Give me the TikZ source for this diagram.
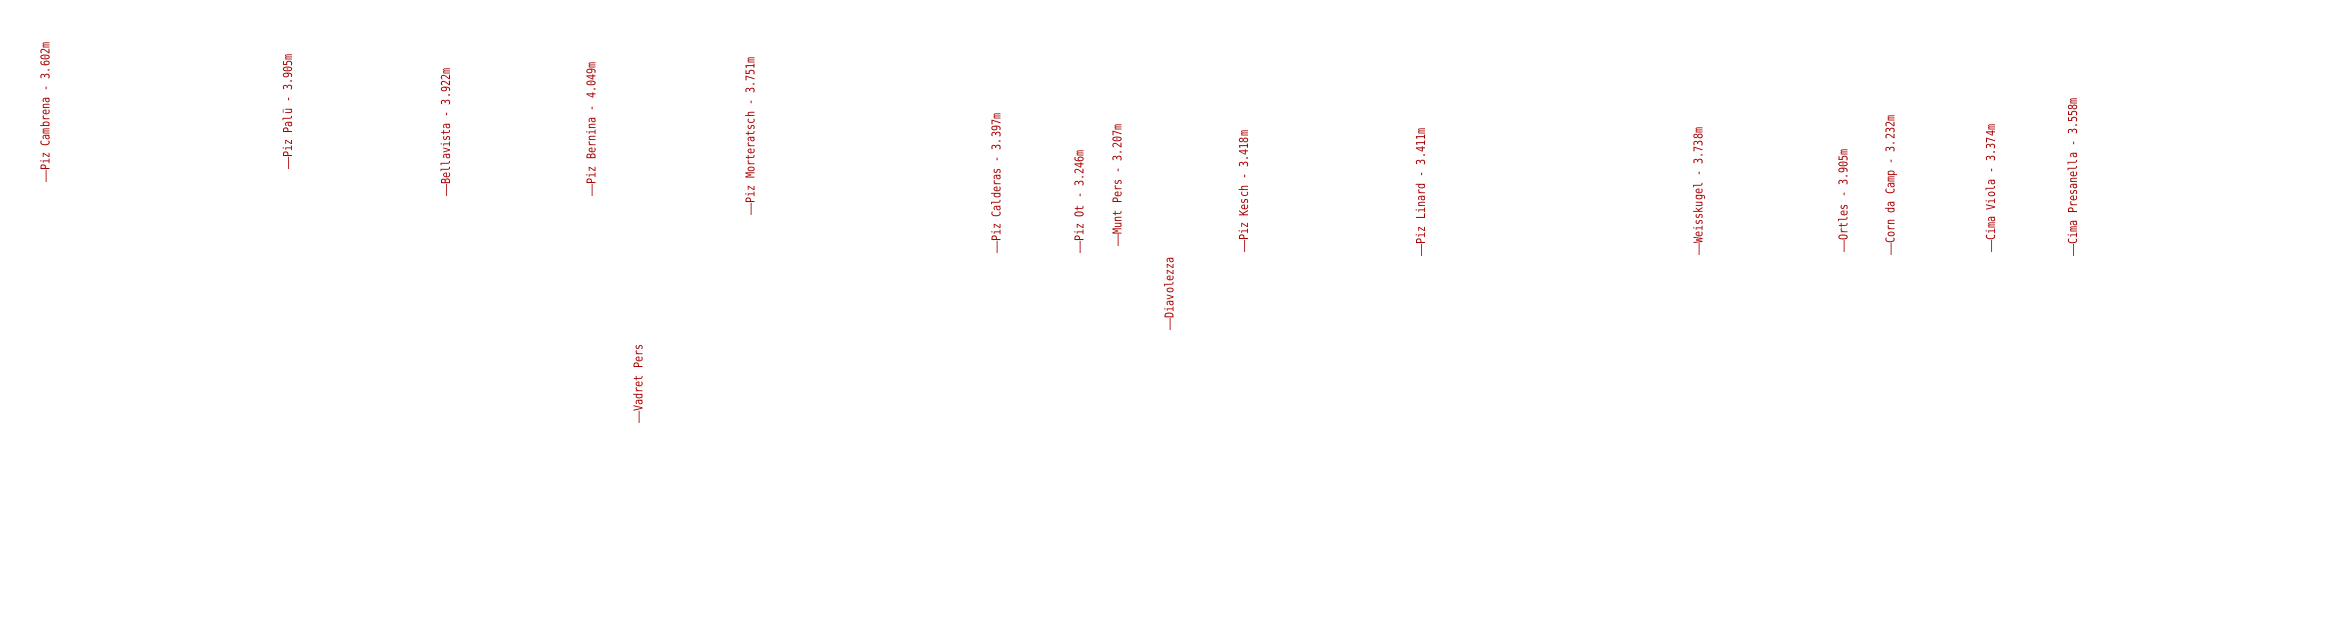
\documentclass[tikz,border=0pt]{standalone}
\usepackage{fontspec}
\usepackage{graphicx}
\newfontfamily\lblfont{DejaVu Sans Mono}[FakeStretch=0.82]
\definecolor{peakred}{RGB}{170,0,0}
\newcommand{\ldash}{\scalebox{2}[1]{—}}
\tikzset{
  peaklabel/.style={rotate=90, anchor=base west, inner sep=0pt, text=peakred,
    font=\lblfont\fontsize{12.35}{12.35}\selectfont}
}
\begin{document}
\begin{tikzpicture}[x=1pt,y=-1pt]
\path[use as bounding box] (0,0) rectangle (2330,620);
\node[peaklabel] (cambrena)    at (49.5,183)   {\ldash Piz Cambrena - 3.602m};
\node[peaklabel] (palu)        at (292,170)    {\ldash Piz Palü - 3.905m};
\node[peaklabel] (bellavista)  at (450.2,196.7){\ldash Bellavista - 3.922m};
\node[peaklabel] (bernina)     at (595.5,196.7){\ldash Piz Bernina - 4.049m};
\node[peaklabel] (morteratsch) at (754.5,215.7){\ldash Piz Morteratsch - 3.751m};
\node[peaklabel] (vadret)      at (642.5,424)  {\ldash Vadret Pers};
\node[peaklabel] (calderas)    at (1000.5,254) {\ldash Piz Calderas - 3.397m};
\node[peaklabel] (ot)          at (1083.5,254) {\ldash Piz Ot - 3.246m};
\node[peaklabel] (muntpers)    at (1121.5,246.7){\ldash Munt Pers - 3.207m};
\node[peaklabel] (diavolezza)  at (1173.5,330.7){\ldash Diavolezza};
\node[peaklabel] (kesch)       at (1248,253)   {\ldash Piz Kesch - 3.418m};
\node[peaklabel] (linard)      at (1425.2,256.7){\ldash Piz Linard - 3.411m};
\node[peaklabel] (weisskugel)  at (1702.5,256) {\ldash Weisskugel - 3.738m};
\node[peaklabel] (ortles)      at (1847.5,253) {\ldash Ortles - 3.905m};
\node[peaklabel] (corndacamp)  at (1894.5,256) {\ldash Corn da Camp - 3.232m};
\node[peaklabel] (cimaviola)   at (1995.2,253) {\ldash Cima Viola - 3.374m};
\node[peaklabel] (presanella)  at (2077.2,256.7){\ldash Cima Presanella - 3.558m};
\end{tikzpicture}
\end{document}
